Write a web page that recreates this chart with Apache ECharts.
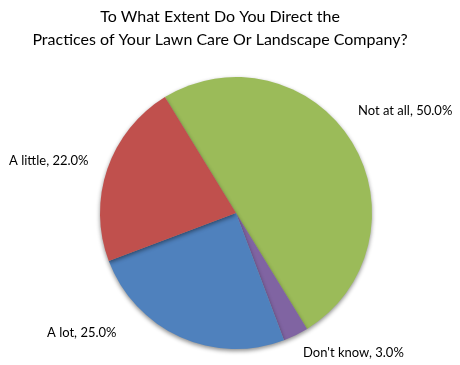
<!DOCTYPE html>
<html>
<head>
<meta charset="utf-8">
<script src="https://cdn.jsdelivr.net/npm/echarts@6/dist/echarts.min.js"></script>
<style>
  html, body { margin: 0; padding: 0; background: #fff; }
  #chart { width: 460px; height: 365px; }
</style>
</head>
<body>
<div id="chart"></div>
<script>
// Survey answers, clockwise from the upper-left edge of the pie
var categories = ['Not at all', "Don't know", 'A lot', 'A little'];
var shares = [50.0, 3.0, 25.0, 22.0];
var sliceColors = ['#9BBB59', '#8064A2', '#4F81BD', '#C0504D'];

var titleLines = [
  'To What Extent Do You Direct the',
  'Practices of Your Lawn Care Or Landscape Company?'
];

// Where each slice's caption sits (x, y, alignment)
var labelSpots = [
  { x: 358, y: 111, align: 'left' },
  { x: 303, y: 353, align: 'left' },
  { x: 47, y: 333, align: 'left' },
  { x: 9, y: 161, align: 'left' }
];

var font = 'Lato, "Open Sans", sans-serif';

var chart = echarts.init(document.getElementById('chart'), null, { renderer: 'canvas' });

var pieData = categories.map(function (name, i) {
  return { name: name, value: shares[i], itemStyle: { color: sliceColors[i] } };
});

chart.setOption({
  animation: false,
  backgroundColor: '#ffffff',
  title: {
    text: titleLines.join('\n'),
    left: 215,
    top: 0,
    textAlign: 'center',
    textStyle: {
      fontFamily: font,
      fontSize: 16,
      fontWeight: 'normal',
      color: '#000',
      lineHeight: 23
    }
  },
  series: [{
    type: 'pie',
    center: [236, 213],
    radius: 136,
    startAngle: 121.5,
    clockwise: true,
    data: pieData,
    itemStyle: {
      borderWidth: 0,
      shadowColor: 'rgba(0,0,0,0.45)',
      shadowBlur: 4,
      shadowOffsetY: 2
    },
    label: {
      show: true,
      position: 'outside',
      overflow: 'none',
      formatter: function (p) { return p.name + ', ' + p.value.toFixed(1) + '%'; },
      fontFamily: font,
      fontSize: 13,
      color: '#000'
    },
    labelLine: { show: false },
    labelLayout: function (params) {
      var s = labelSpots[params.dataIndex];
      return { x: s.x, y: s.y, align: s.align, verticalAlign: 'middle' };
    },
    emphasis: { disabled: true }
  }]
});
</script>
</body>
</html>
